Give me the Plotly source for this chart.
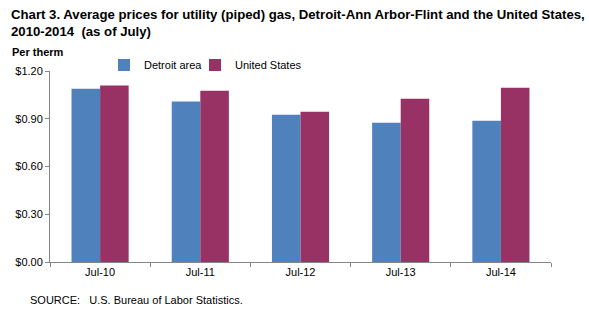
import plotly.graph_objects as go

categories = ["Jul-10", "Jul-11", "Jul-12", "Jul-13", "Jul-14"]
detroit = [1.089, 1.009, 0.925, 0.875, 0.887]
united_states = [1.109, 1.076, 0.944, 1.026, 1.095]
series_names = ["Detroit area", "United States"]
y_ticks = [0, 0.3, 0.6, 0.9, 1.2]

W, H = 589, 323
L, R, T, B = 50, 38, 71, 61
PW, PH = W - L - R, H - T - B

def px(x):
    return (x - L) / PW

def py(y):
    return 1 - (y - T) / PH

FONT = "Liberation Sans, Arial, sans-serif"

fig = go.Figure()
fig.add_trace(go.Bar(x=categories, y=detroit, name=series_names[0], legend="legend",
                     marker=dict(color="#4F81BD", line=dict(width=0))))
fig.add_trace(go.Bar(x=categories, y=united_states, name=series_names[1], legend="legend2",
                     marker=dict(color="#983264", line=dict(width=0))))

leg_common = dict(orientation="h", yanchor="middle", xanchor="left", font=dict(size=11),
                  itemwidth=30, bgcolor="rgba(0,0,0,0)")

fig.update_layout(
    width=W, height=H,
    margin=dict(l=L, r=R, t=T, b=B, autoexpand=False),
    paper_bgcolor="white", plot_bgcolor="white",
    font=dict(family=FONT, size=11, color="black"),
    barmode="group", bargap=0.43, bargroupgap=0,
    showlegend=True,
    legend=dict(x=px(104), y=py(65), **leg_common),
    legend2=dict(x=px(195), y=py(65), **leg_common),
    xaxis=dict(showline=True, linecolor="#868686", linewidth=1, ticks="outside",
               tickson="boundaries", ticklen=4, tickcolor="#868686",
               showgrid=False, tickfont=dict(size=11)),
    yaxis=dict(range=[0, 1.2], tickvals=y_ticks, tickformat="$.2f",
               showline=True, linecolor="#868686", linewidth=1, ticks="outside",
               ticklen=4, tickcolor="#868686", showgrid=False, zeroline=False,
               tickfont=dict(size=11)),
)

fig.add_annotation(text="<b>Chart 3. Average prices for utility (piped) gas, Detroit-Ann Arbor-Flint and the United States,<br>2010-2014  (as of July)</b>",
                   xref="paper", yref="paper", x=px(9), y=py(5), xanchor="left", yanchor="top",
                   align="left", showarrow=False, font=dict(size=13.2, family=FONT))
fig.add_annotation(text="<b>Per therm</b>", xref="paper", yref="paper", x=px(10), y=py(52),
                   xanchor="left", yanchor="middle", showarrow=False, font=dict(size=11))
fig.add_annotation(text="SOURCE:   U.S. Bureau of Labor Statistics.", xref="paper", yref="paper",
                   x=px(28), y=py(300), xanchor="left", yanchor="middle", showarrow=False,
                   font=dict(size=11))

fig.write_html("out.html")
